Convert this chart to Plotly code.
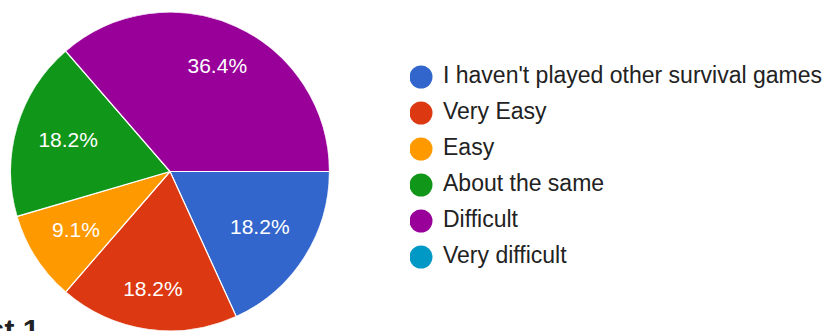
import math
import plotly.graph_objects as go

categories = ["I haven't played other survival games", "Very Easy", "Easy",
              "About the same", "Difficult", "Very difficult"]
counts = [2, 2, 1, 2, 4, 0]
colors = ["#3366cc", "#dc3912", "#ff9900", "#109618", "#990099", "#0099c6"]
legend_rows = list(range(len(categories)))

W, H = 824, 331
FONT = "Liberation Sans, Arial, sans-serif"
PIE_DOMAIN = dict(x=[9 / W, 331 / W], y=[0, 319 / H])
START = 90          # first slice starts at 3 o'clock, going clockwise
LABEL_SIZE = 21
LABEL_REACH = 0.863  # outer corner of each label box sits at this fraction of the radius

total = sum(counts)
shares = [c / total for c in counts]
mids, cum = [], 0.0
for s in shares:
    mids.append((START + 360 * (cum + s / 2)) % 360)
    cum += s
widths = [360 * s for s in shares]
pct_text = [f"{s * 100:.1f}%" for s in shares]

# place each label along its slice's middle direction, so that its outer corner
# reaches LABEL_REACH of the radius (Google-Charts style placement)
ARIAL_W = {**{d: 0.556 for d in "0123456789"}, ".": 0.278, "%": 0.889}
R_px = min((PIE_DOMAIN["x"][1] - PIE_DOMAIN["x"][0]) * W,
           (PIE_DOMAIN["y"][1] - PIE_DOMAIN["y"][0]) * H) / 2
label_r = []
for t, m in zip(pct_text, mids):
    w = sum(ARIAL_W.get(ch, 0.556) for ch in t) * LABEL_SIZE
    h = LABEL_SIZE
    ux, uy = abs(math.sin(math.radians(m))), abs(math.cos(math.radians(m)))
    b = ux * w / 2 + uy * h / 2
    c = (w / 2) ** 2 + (h / 2) ** 2 - (LABEL_REACH * R_px) ** 2
    d = -b + math.sqrt(b * b - c)
    label_r.append(d / R_px)

fig = go.Figure()

# pie slices drawn as polar wedges
fig.add_trace(go.Barpolar(
    r=[1] * len(counts),
    theta=mids,
    width=widths,
    marker=dict(color=colors, line=dict(color="white", width=1.2)),
    customdata=pct_text,
    hovertext=categories,
    hovertemplate="%{hovertext}: %{customdata}<extra></extra>",
    showlegend=False,
))

# percentage labels
shown = [i for i, c in enumerate(counts) if c > 0]
fig.add_trace(go.Scatterpolar(
    r=[label_r[i] for i in shown],
    theta=[mids[i] for i in shown],
    text=[pct_text[i] for i in shown],
    mode="text",
    textfont=dict(color="white", size=LABEL_SIZE, family=FONT),
    showlegend=False,
    hoverinfo="skip",
))

# custom legend (circle markers) drawn from the category list
fig.add_trace(go.Scatter(
    x=[0] * len(categories),
    y=legend_rows,
    mode="markers",
    marker=dict(size=23, color=colors, line=dict(width=0)),
    showlegend=False,
    hoverinfo="skip",
    xaxis="x", yaxis="y",
))
fig.add_trace(go.Scatter(
    x=[2.0] * len(categories),
    y=legend_rows,
    mode="text",
    text=categories,
    textposition="middle right",
    textfont=dict(size=23, color="#222222", family=FONT),
    showlegend=False,
    hoverinfo="skip",
    xaxis="x", yaxis="y",
))

fig.add_annotation(
    text="<b>Test 1</b>", xref="paper", yref="paper",
    x=41 / W, y=(H - 329) / H, xanchor="right", yanchor="middle",
    showarrow=False, font=dict(size=30, color="#222222", family=FONT),
)

fig.update_layout(
    width=W, height=H,
    margin=dict(l=0, r=0, t=0, b=0),
    paper_bgcolor="white", plot_bgcolor="rgba(0,0,0,0)",
    polar=dict(
        domain=PIE_DOMAIN,
        bgcolor="rgba(0,0,0,0)",
        bargap=0,
        radialaxis=dict(range=[0, 1], visible=False, showgrid=False),
        angularaxis=dict(rotation=90, direction="clockwise", visible=False, showgrid=False),
    ),
    xaxis=dict(domain=[410 / W, 1], range=[-1, (824 - 421) / 11], visible=False, fixedrange=True),
    yaxis=dict(domain=[0, 1], range=[(H - 77) / 36, -77 / 36], visible=False, fixedrange=True),
)

fig.write_html("out.html")
